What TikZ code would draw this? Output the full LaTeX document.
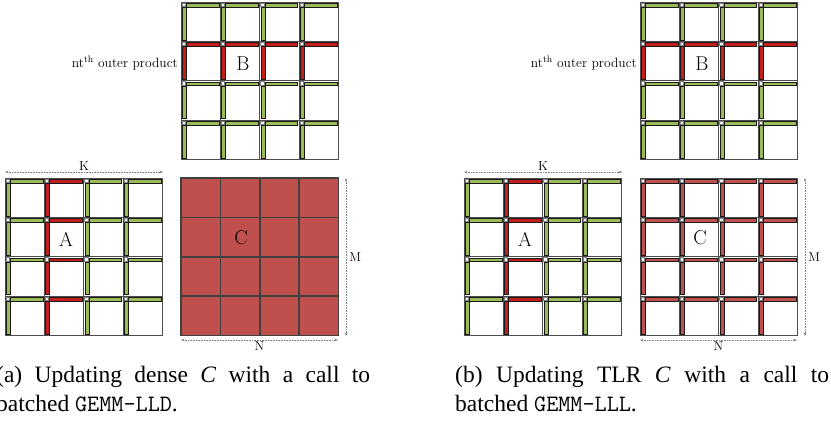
\documentclass[tikz,border=0pt]{standalone}
\usepackage{fontspec}
\newfontfamily\capfont{Liberation Serif}
\usetikzlibrary{arrows.meta}
\definecolor{lrgreen}{RGB}{155,187,89}
\definecolor{lrred}{RGB}{195,30,28}
\definecolor{dnred}{RGB}{192,80,77}
\tikzset{
  tileedge/.style={draw=black!70, line width=0.9pt},
  densetile/.style={draw=black!75, line width=1.6pt, fill=dnred},
  lrbar/.style={draw=black!90, line width=0.6pt, fill=#1},
  dimarrow/.style={<->, >={Stealth[length=3.5pt,width=2.5pt]}, gray, densely dotted, line width=0.6pt},
  dimlabel/.style={font=\fontsize{13}{15}\selectfont, text=black, inner sep=1pt},
  matlabel/.style={font=\fontsize{20}{24}\selectfont},
  capstyle/.style={anchor=north west, text width=374pt, align=justify, inner sep=0pt,
    font=\capfont\fontsize{23.5}{29}\selectfont},
  pics/lrtile/.style={code={
    \draw[tileedge] (0,0) rectangle (39.4,39.4);
    \draw[gray, fill=white, line width=0.6pt] (0.9,0.9) rectangle (4.3,4.3);
    \draw[lrbar=#1] (5,1) rectangle (37.8,4.8);
    \draw[lrbar=#1] (1.2,5.2) rectangle (5,37.8);
  }},
}
\begin{document}
\begin{tikzpicture}[x=1pt,y=-1pt]
\useasboundingbox (0,0) rectangle (831,429);
% parts shared by both panels
\foreach \p/\dx in {a/0,b/459} {
\begin{scope}[xshift=\dx pt, name prefix=\p-]
  % A: the nt-th column of tiles in red
  \foreach \r in {0,...,3}
    \foreach \c in {0,...,3} {
      \ifnum\c=1 \def\barcol{lrred}\else\def\barcol{lrgreen}\fi
      \pic at (5+39.4*\c,178+39.4*\r) {lrtile=\barcol};
    }
  % B: the nt-th row of tiles in red
  \foreach \r in {0,...,3}
    \foreach \c in {0,...,3} {
      \ifnum\r=1 \def\barcol{lrred}\else\def\barcol{lrgreen}\fi
      \pic at (181+39.4*\c,2+39.4*\r) {lrtile=\barcol};
    }
  \node[matlabel] (Alabel) at (66,239) {A};
  \node[matlabel] (Blabel) at (243,64) {B};
  \node[font=\fontsize{13.5}{15}\selectfont, anchor=east, inner sep=1pt] (ntlabel) at (179,63) {nt$^{\mathrm{th}}$ outer product};
  % dimensions
  \coordinate (kleft) at (5,172);
  \coordinate (kright) at (163,172);
  \coordinate (mtop) at (346,178);
  \coordinate (mbot) at (346,336);
  \coordinate (nleft) at (181,340);
  \coordinate (nright) at (338,340);
  \draw[dimarrow] (kleft) -- node[above, dimlabel] (klabel) {K} (kright);
  \draw[dimarrow] (mtop) -- node[right, dimlabel, xshift=2pt] (mlabel) {M} (mbot);
  \draw[dimarrow] (nleft) -- node[below, dimlabel] (nlabel) {N} (nright);
\end{scope}
}
% (a) dense C
\foreach \r in {0,...,3}
  \foreach \c in {0,...,3}
    \draw[densetile] (181+39.4*\c,178+39.4*\r) rectangle +(39.4,39.4);
\node[matlabel] (a-Clabel) at (241,238) {C};
% (b) TLR C
\begin{scope}[xshift=459pt]
  \foreach \r in {0,...,3}
    \foreach \c in {0,...,3}
      \pic at (181+39.4*\c,178+39.4*\r) {lrtile=dnred};
  \node[matlabel] (b-Clabel) at (241,238) {C};
\end{scope}
% captions
\node[capstyle] (capa) at (-4,366)
  {(a) Updating dense \textit{C} with a call to batched \texttt{GEMM-LLD}.};
\node[capstyle] (capb) at (455,366)
  {(b) Updating TLR \textit{C} with a call to batched \texttt{GEMM-LLL}.};
\end{tikzpicture}
\end{document}
